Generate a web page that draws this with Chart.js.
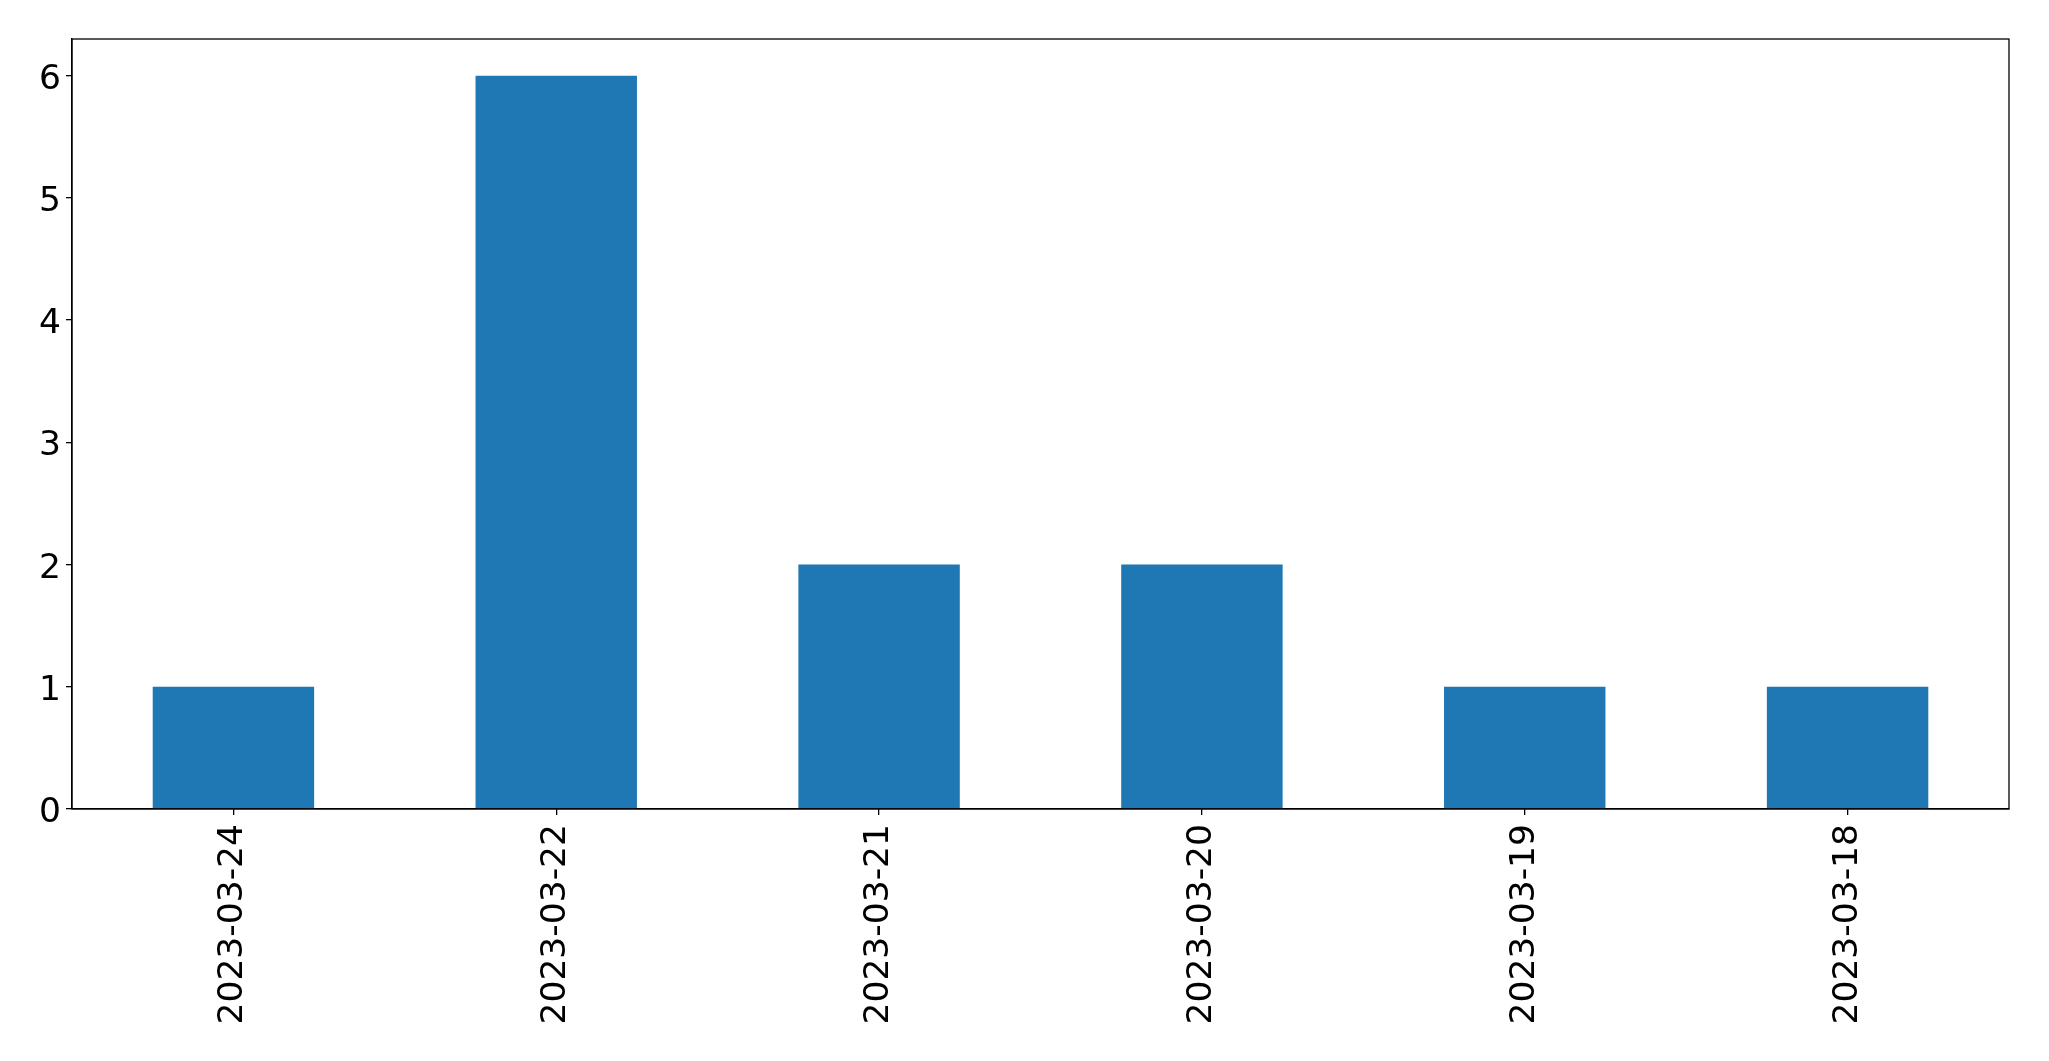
<!DOCTYPE html>
<html>
<head>
<meta charset="utf-8">
<script src="https://cdn.jsdelivr.net/npm/chart.js@4"></script>
<style>
html,body{margin:0;padding:0;background:#fff;}
#wrap{width:2049px;height:1061px;position:relative;}
</style>
</head>
<body>
<div id="wrap"><canvas id="c" width="2049" height="1061"></canvas></div>
<script>
const categories = ["2023-03-24","2023-03-22","2023-03-21","2023-03-20","2023-03-19","2023-03-18"];
const counts = [1, 6, 2, 2, 1, 1];
const yTicks = [0, 1, 2, 3, 4, 5, 6];

const frame = {
  id: 'frame',
  afterDatasetsDraw(chart) {
    const a = chart.chartArea, ctx = chart.ctx;
    ctx.save();
    ctx.strokeStyle = '#000';
    ctx.lineWidth = 1.3;
    ctx.strokeRect(a.left, a.top, a.right - a.left, a.bottom - a.top);
    ctx.restore();
  }
};

new Chart(document.getElementById('c'), {
  type: 'bar',
  data: {
    labels: categories,
    datasets: [{
      data: counts,
      backgroundColor: '#1f77b4',
      borderWidth: 0,
      barPercentage: 0.5,
      categoryPercentage: 1.0
    }]
  },
  options: {
    responsive: false,
    animation: false,
    devicePixelRatio: 1,
    layout: { padding: { top: 39, right: 40, left: 0, bottom: 0 } },
    plugins: { legend: { display: false }, tooltip: { enabled: false } },
    scales: {
      x: {
        offset: true,
        grid: { display: true, drawOnChartArea: false, drawTicks: true, tickLength: 6, color: '#000', offset: false, lineWidth: 1.3 },
        border: { display: true, color: '#000', width: 1.3 },
        ticks: {
          color: '#000',
          font: { family: 'DejaVu Sans', size: 34.5 },
          maxRotation: 90, minRotation: 90,
          autoSkip: false,
          padding: 9
        },
        afterFit(scale) { scale.height = 252; }
      },
      y: {
        min: 0, max: 6.3,
        grid: { display: true, drawOnChartArea: false, drawTicks: true, tickLength: 6, color: '#000', lineWidth: 1.3 },
        border: { display: true, color: '#000', width: 1.3 },
        ticks: {
          color: '#000',
          font: { family: 'DejaVu Sans', size: 34.5 },
          stepSize: 1,
          includeBounds: false,
          padding: 5,
          labelOffset: 4
        },
        afterBuildTicks(scale) { scale.ticks = yTicks.map(v => ({ value: v })); },
        afterFit(scale) { scale.width = 72; }
      }
    }
  },
  plugins: [frame]
});
</script>
</body>
</html>
